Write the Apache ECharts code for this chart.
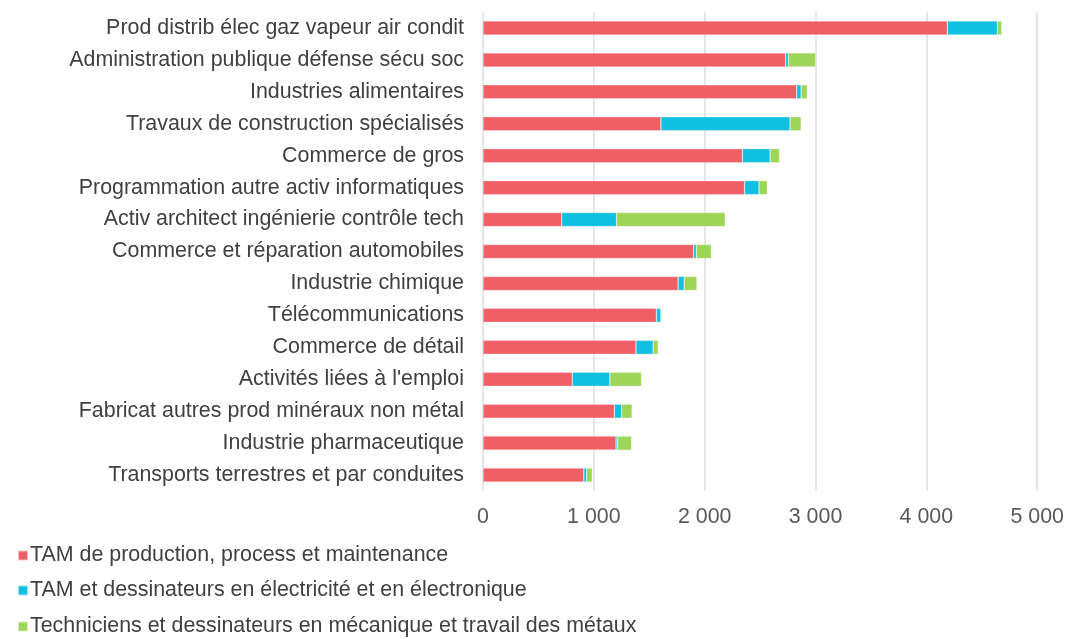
<!DOCTYPE html>
<html>
<head>
<meta charset="utf-8">
<script src="https://cdn.jsdelivr.net/npm/echarts@6/dist/echarts.min.js"></script>
<style>
  html, body { margin: 0; padding: 0; background: #fff; }
  #chart { width: 1067px; height: 639px; }
</style>
</head>
<body>
<div id="chart"></div>
<script>
// secteurs, du haut vers le bas
const categories = [
  'Prod distrib élec gaz vapeur air condit',
  'Administration publique défense sécu soc',
  'Industries alimentaires',
  'Travaux de construction spécialisés',
  'Commerce de gros',
  'Programmation autre activ informatiques',
  'Activ architect ingénierie contrôle tech',
  'Commerce et réparation automobiles',
  'Industrie chimique',
  'Télécommunications',
  'Commerce de détail',
  "Activités liées à l'emploi",
  'Fabricat autres prod minéraux non métal',
  'Industrie pharmaceutique',
  'Transports terrestres et par conduites'
];

const seriesNames = [
  'TAM de production, process et maintenance',
  'TAM et dessinateurs en électricité et en électronique',
  'Techniciens et dessinateurs en mécanique et travail des métaux'
];

const production = [4190, 2730, 2830, 1605, 2340, 2360, 710, 1900, 1760, 1565, 1380, 805, 1185, 1200, 910];
const electricite = [450, 25, 40, 1165, 250, 130, 495, 25, 55, 40, 155, 340, 65, 15, 25];
const mecanique = [40, 245, 55, 100, 85, 75, 980, 135, 115, 5, 45, 285, 95, 125, 50];

const colors = ['#F15F66', '#10C0E0', '#9DD556'];
const xTicks = [0, 1000, 2000, 3000, 4000, 5000];

const chart = echarts.init(document.getElementById('chart'));

// format "1 000"
const fmt = (v) => String(v).replace(/\B(?=(\d{3})+(?!\d))/g, ' ');

const makeSeries = (name, data, idx) => ({
  name: name,
  type: 'bar',
  stack: 'total',
  data: data,
  barWidth: 14,
  itemStyle: {
    color: colors[idx],
    borderColor: 'rgba(255,255,255,0.6)',
    borderWidth: 0.5
  }
});

// une légende par série, empilées verticalement
const legendTops = [540, 575, 611];
const makeLegend = (name, i) => ({
  orient: 'vertical',
  left: 12,
  top: legendTops[i],
  icon: 'rect',
  itemWidth: 10,
  itemHeight: 10,
  textStyle: { color: '#404040', fontSize: 21.4, padding: [0, 0, 0, -3] },
  data: [name]
});

const option = {
  animation: false,
  textStyle: { fontFamily: 'Liberation Sans, Arial, sans-serif' },
  grid: {
    left: 483,
    right: 28,
    top: 12,
    bottom: 148
  },
  xAxis: {
    type: 'value',
    min: xTicks[0],
    max: xTicks[xTicks.length - 1],
    interval: 1000,
    axisLine: { show: false },
    axisTick: { show: false },
    axisLabel: {
      color: '#595959',
      fontSize: 21.4,
      margin: 16,
      formatter: (v) => fmt(v)
    },
    splitLine: {
      lineStyle: { color: '#E6E6E6', width: 2 }
    }
  },
  yAxis: {
    type: 'category',
    data: categories,
    inverse: true,
    axisLine: { show: false },
    axisTick: { show: false },
    axisLabel: {
      color: '#404040',
      fontSize: 21.4,
      margin: 19
    }
  },
  legend: seriesNames.map(makeLegend),
  series: [
    makeSeries(seriesNames[0], production, 0),
    makeSeries(seriesNames[1], electricite, 1),
    makeSeries(seriesNames[2], mecanique, 2)
  ]
};

chart.setOption(option);
</script>
</body>
</html>
